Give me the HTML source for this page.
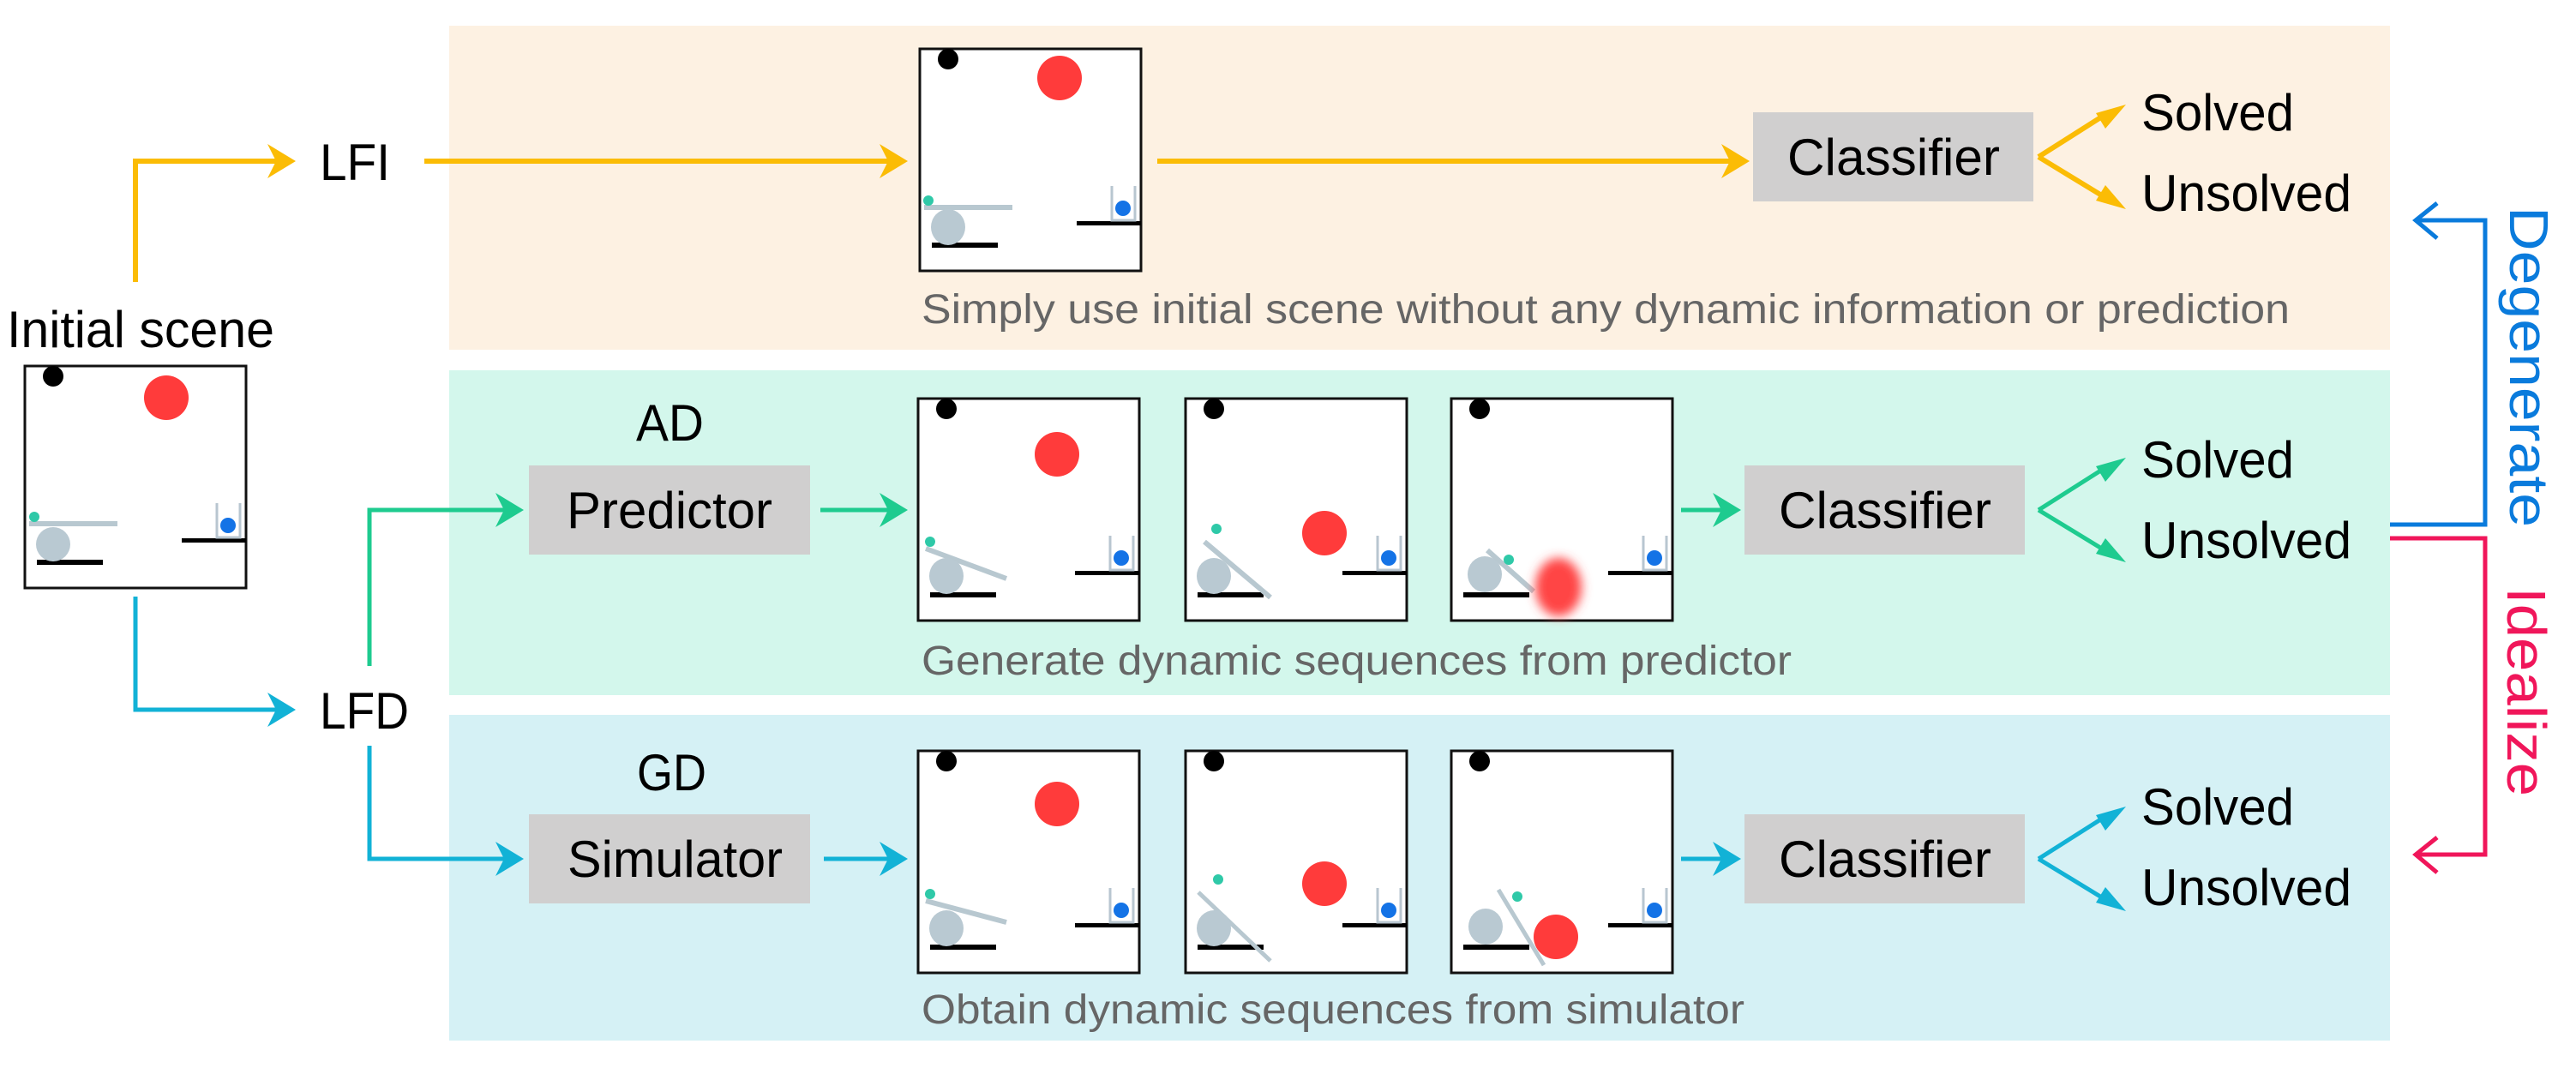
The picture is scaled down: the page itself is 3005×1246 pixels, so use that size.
<!DOCTYPE html>
<html><head><meta charset="utf-8"><style>html,body{margin:0;padding:0;background:#fff}svg{display:block}text{font-family:"Liberation Sans",Arial,sans-serif}</style></head>
<body>
<svg width="3005" height="1246" viewBox="0 0 3005 1246" xmlns="http://www.w3.org/2000/svg">
<defs>
<filter id="bl" x="-50%" y="-50%" width="200%" height="200%"><feGaussianBlur stdDeviation="6"/></filter>
<g id="common">
<rect x="0" y="0" width="258" height="259" fill="#fff" stroke="#111" stroke-width="3"/>
<ellipse cx="33" cy="12" rx="12" ry="12" fill="#000"/>
<rect x="14" y="226" width="77" height="6" fill="#000"/>
<rect x="183" y="201" width="75" height="5" fill="#000"/>
<path d="M224 160 V200 H251 V160" fill="none" stroke="#b8c6d0" stroke-width="3"/>
<circle cx="237" cy="186" r="9" fill="#1473e6"/>
</g>
</defs>
<rect x="524" y="30" width="2264" height="378" fill="#fdf1e2"/>
<rect x="524" y="432" width="2264" height="379" fill="#d3f7ec"/>
<rect x="524" y="834" width="2264" height="380" fill="#d5f1f5"/>

<text x="8" y="405" font-size="60" textLength="312" lengthAdjust="spacingAndGlyphs">Initial scene</text>
<g transform="translate(29,427)">
<use href="#common"/>
<ellipse cx="165" cy="37" rx="26" ry="26" fill="#ff3b3b"/>
<line x1="5" y1="184" x2="108" y2="184" stroke="#b8c8d0" stroke-width="6"/>
<circle cx="11" cy="176" r="6" fill="#2fc9a8"/>
<ellipse cx="33" cy="208" rx="20" ry="20" fill="#b9c9d2"/>
</g>

<g fill="none" stroke="#fbbc05" stroke-width="6">
<path d="M158 329 V188 H322"/>
<path d="M495 188 H1042"/>
<path d="M1350 188 H2024"/>
<path d="M2378 183 L2460 131 M2378 183 L2460 233"/>
</g>
<g fill="#fbbc05">
<path d="M312 168 L345 188 L312 208 L322 188Z"/>
<path d="M1026 168 L1059 188 L1026 208 L1036 188Z"/>
<path d="M2008 168 L2041 188 L2008 208 L2018 188Z"/>
<path d="M2480 122 L2456 150 L2445 132Z"/>
<path d="M2480 244 L2445 234 L2456 216Z"/>
</g>
<text x="373" y="210" font-size="60" textLength="82" lengthAdjust="spacingAndGlyphs">LFI</text>
<g transform="translate(1073,57)">
<use href="#common"/>
<ellipse cx="163" cy="34" rx="26" ry="26" fill="#ff3b3b"/>
<line x1="5" y1="185" x2="108" y2="185" stroke="#b8c8d0" stroke-width="6"/>
<circle cx="10" cy="177" r="6" fill="#2fc9a8"/>
<ellipse cx="33" cy="208" rx="20" ry="21" fill="#b9c9d2"/>
</g>
<text x="1075" y="377" font-size="48" fill="#666" textLength="1596" lengthAdjust="spacingAndGlyphs">Simply use initial scene without any dynamic information or prediction</text>
<rect x="2045" y="131" width="327" height="104" fill="#d0cfcf"/>
<text x="2085" y="204" font-size="60" textLength="248" lengthAdjust="spacingAndGlyphs">Classifier</text>
<text x="2498" y="152" font-size="60" textLength="178" lengthAdjust="spacingAndGlyphs">Solved</text>
<text x="2498" y="246" font-size="60" textLength="245" lengthAdjust="spacingAndGlyphs">Unsolved</text>

<g fill="none" stroke="#12b2d6" stroke-width="5">
<path d="M158 696 V828 H322"/>
<path d="M431 870 V1002 H588"/>
<path d="M961 1002 H1040"/>
<path d="M1961 1002 H2012"/>
<path d="M2378 1002 L2460 950 M2378 1002 L2460 1052"/>
</g>
<g fill="#12b2d6">
<path d="M312 808 L345 828 L312 848 L322 828Z"/>
<path d="M578 982 L611 1002 L578 1022 L588 1002Z"/>
<path d="M1026 982 L1059 1002 L1026 1022 L1036 1002Z"/>
<path d="M1998 982 L2031 1002 L1998 1022 L2008 1002Z"/>
<path d="M2480 941 L2456 969 L2445 951Z"/>
<path d="M2480 1063 L2445 1053 L2456 1035Z"/>
</g>
<text x="373" y="850" font-size="60" textLength="104" lengthAdjust="spacingAndGlyphs">LFD</text>

<g fill="none" stroke="#1ecb8f" stroke-width="5">
<path d="M431 777 V595 H588"/>
<path d="M957 595 H1040"/>
<path d="M1961 595 H2012"/>
<path d="M2378 595 L2460 543 M2378 595 L2460 645"/>
</g>
<g fill="#1ecb8f">
<path d="M578 575 L611 595 L578 615 L588 595Z"/>
<path d="M1026 575 L1059 595 L1026 615 L1036 595Z"/>
<path d="M1998 575 L2031 595 L1998 615 L2008 595Z"/>
<path d="M2480 534 L2456 562 L2445 544Z"/>
<path d="M2480 656 L2445 646 L2456 628Z"/>
</g>
<text x="742" y="514" font-size="60" textLength="79" lengthAdjust="spacingAndGlyphs">AD</text>
<rect x="617" y="543" width="328" height="104" fill="#d0cfcf"/>
<text x="661" y="616" font-size="60" textLength="240" lengthAdjust="spacingAndGlyphs">Predictor</text>
<g transform="translate(1071,465)">
<use href="#common"/>
<ellipse cx="162" cy="65" rx="26" ry="26" fill="#ff3b3b"/>
<line x1="9" y1="175" x2="103" y2="210" stroke="#b8c8d0" stroke-width="6"/>
<circle cx="14" cy="167" r="6" fill="#2fc9a8"/>
<ellipse cx="33" cy="207" rx="20" ry="21" fill="#b9c9d2"/>
</g>
<g transform="translate(1383,465)">
<use href="#common"/>
<ellipse cx="162" cy="157" rx="26" ry="26" fill="#ff3b3b"/>
<line x1="22" y1="167" x2="99" y2="232" stroke="#b8c8d0" stroke-width="6"/>
<circle cx="36" cy="152" r="6" fill="#2fc9a8"/>
<ellipse cx="33" cy="207" rx="20" ry="21" fill="#b9c9d2"/>
</g>
<g transform="translate(1693,465)">
<use href="#common"/>
<line x1="42" y1="177" x2="96" y2="225" stroke="#b8c8d0" stroke-width="6"/>
<ellipse cx="39" cy="205" rx="20" ry="21" fill="#b9c9d2"/>
<circle cx="67" cy="188" r="6" fill="#2fc9a8"/>
<ellipse cx="125" cy="220" rx="27" ry="34" fill="#ff4444" filter="url(#bl)"/>
</g>
<text x="1075" y="787" font-size="48" fill="#666" textLength="1015" lengthAdjust="spacingAndGlyphs">Generate dynamic sequences from predictor</text>
<rect x="2035" y="543" width="327" height="104" fill="#d0cfcf"/>
<text x="2075" y="616" font-size="60" textLength="248" lengthAdjust="spacingAndGlyphs">Classifier</text>
<text x="2498" y="557" font-size="60" textLength="178" lengthAdjust="spacingAndGlyphs">Solved</text>
<text x="2498" y="651" font-size="60" textLength="245" lengthAdjust="spacingAndGlyphs">Unsolved</text>

<text x="743" y="922" font-size="60" textLength="81" lengthAdjust="spacingAndGlyphs">GD</text>
<rect x="617" y="950" width="328" height="104" fill="#d0cfcf"/>
<text x="662" y="1023" font-size="60" textLength="251" lengthAdjust="spacingAndGlyphs">Simulator</text>
<g transform="translate(1071,876)">
<use href="#common"/>
<ellipse cx="162" cy="62" rx="26" ry="26" fill="#ff3b3b"/>
<line x1="9" y1="175" x2="103" y2="200" stroke="#b8c8d0" stroke-width="6"/>
<circle cx="14" cy="167" r="6" fill="#2fc9a8"/>
<ellipse cx="33" cy="207" rx="20" ry="21" fill="#b9c9d2"/>
</g>
<g transform="translate(1383,876)">
<use href="#common"/>
<ellipse cx="162" cy="155" rx="26" ry="26" fill="#ff3b3b"/>
<line x1="15" y1="165" x2="99" y2="245" stroke="#b8c8d0" stroke-width="5"/>
<circle cx="38" cy="150" r="6" fill="#2fc9a8"/>
<ellipse cx="33" cy="207" rx="20" ry="21" fill="#b9c9d2"/>
</g>
<g transform="translate(1693,876)">
<use href="#common"/>
<line x1="55" y1="162" x2="108" y2="250" stroke="#b8c8d0" stroke-width="5"/>
<ellipse cx="40" cy="205" rx="20" ry="21" fill="#b9c9d2"/>
<circle cx="77" cy="170" r="6" fill="#2fc9a8"/>
<ellipse cx="122" cy="217" rx="26" ry="26" fill="#ff3b3b"/>
</g>
<text x="1075" y="1194" font-size="48" fill="#666" textLength="960" lengthAdjust="spacingAndGlyphs">Obtain dynamic sequences from simulator</text>
<rect x="2035" y="950" width="327" height="104" fill="#d0cfcf"/>
<text x="2075" y="1023" font-size="60" textLength="248" lengthAdjust="spacingAndGlyphs">Classifier</text>
<text x="2498" y="962" font-size="60" textLength="178" lengthAdjust="spacingAndGlyphs">Solved</text>
<text x="2498" y="1056" font-size="60" textLength="245" lengthAdjust="spacingAndGlyphs">Unsolved</text>

<g fill="none" stroke-width="5">
<path d="M2788 612 H2899 V257 H2818 M2843 237 L2818 257 L2843 278" stroke="#0a7bdc"/>
<path d="M2788 628 H2899 V997 H2818 M2843 977 L2818 997 L2843 1018" stroke="#f0165a"/>
</g>
<text transform="translate(2928,241) rotate(90)" font-size="64" fill="#0a7bdc" textLength="374" lengthAdjust="spacingAndGlyphs">Degenerate</text>
<text transform="translate(2925,685) rotate(90)" font-size="64" fill="#f0165a" textLength="244" lengthAdjust="spacingAndGlyphs">Idealize</text>
</svg>
</body></html>
